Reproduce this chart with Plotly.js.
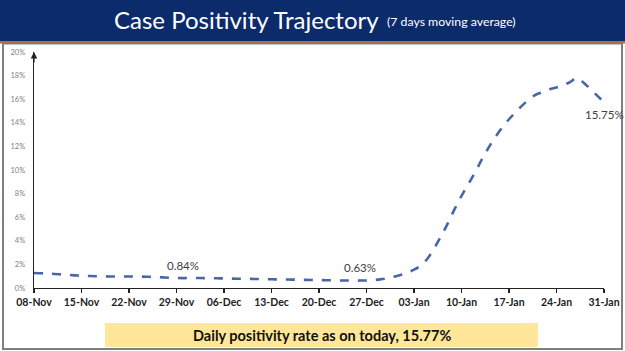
<!DOCTYPE html>
<html>
<head>
<meta charset="utf-8">
<script src="https://cdn.plot.ly/plotly-3.0.1.min.js"></script>
<style>html,body{margin:0;padding:0;background:#fff;}#chart{width:625px;height:351px;}</style>
</head>
<body>
<div id="chart"></div>
<script>
// Daily 7-day moving average of case positivity (%), starting 08-Nov-2021
const startDate = "2021-11-08";
const positivity = [
  1.27,1.25,1.22,1.19,1.15,1.11,1.07,
  1.04,1.02,1.00,0.99,0.98,0.98,0.97,
  0.97,0.97,0.96,0.95,0.93,0.90,0.87,
  0.85,0.84,0.85,0.85,0.84,0.83,0.82,
  0.81,0.80,0.79,0.78,0.77,0.76,0.75,
  0.74,0.73,0.72,0.71,0.70,0.69,0.68,
  0.67,0.66,0.65,0.64,0.64,0.63,0.63,
  0.64,0.67,0.73,0.82,0.95,1.10,1.30,
  1.55,1.90,2.50,3.40,4.40,5.50,6.70,
  7.80,8.80,9.80,10.90,11.90,12.80,13.60,
  14.30,14.90,15.50,16.00,16.40,16.60,16.85,
  17.00,17.20,17.45,17.80,17.40,16.85,16.30,
  15.75
];
const labelDates = ["2021-11-30","2021-12-26","2022-01-31"];
const labelValues = [0.84, 0.63, 15.75];
const labelTexts = ["0.84%","0.63%","15.75%"];
const yTickVals = [0,2,4,6,8,10,12,14,16,18,20];
const yTickText = ["0%","2%","4%","6%","8%","10%","12%","14%","16%","18%","20%"];
const titleText = "Case Positivity Trajectory";
const subtitleText = "(7 days moving average)";
const footerText = "Daily positivity rate as on today, 15.77%";

const dates = [];
{
  const d0 = new Date(startDate + "T00:00:00Z");
  for (let i = 0; i < positivity.length; i++) {
    const d = new Date(d0.getTime() + i * 86400000);
    dates.push(d.toISOString().slice(0,10));
  }
}

// pixel helpers (plot area: x 34..604, y 52..288)
const L = 34, R = 604, T = 52, B = 288;
const px = v => (v - L) / (R - L);
const py = v => (B - v) / (B - T);

const trace = {
  x: dates, y: positivity, type: "scatter", mode: "lines",
  line: {color: "#4767A8", width: 2.6, dash: "dash", shape: "spline"},
  hoverinfo: "skip"
};

const annotations = [];
const shifts = [13, 13, -12];
for (let i = 0; i < labelTexts.length; i++) {
  annotations.push({
    x: labelDates[i], y: labelValues[i], xref: "x", yref: "y",
    text: labelTexts[i], showarrow: false, yshift: shifts[i],
    font: {family: "Lato, 'Open Sans', sans-serif", size: 11.5, color: "#404040"}
  });
}
annotations.push({
  x: px(112), y: py(20), xref: "paper", yref: "paper", xanchor: "left", yanchor: "middle",
  text: titleText, showarrow: false,
  font: {family: "Lato, 'Open Sans', sans-serif", size: 24, color: "#ffffff"}
});
annotations.push({
  x: px(385), y: py(22), xref: "paper", yref: "paper", xanchor: "left", yanchor: "middle",
  text: subtitleText, showarrow: false,
  font: {family: "Lato, 'Open Sans', sans-serif", size: 12.3, color: "#ffffff"}
});
annotations.push({
  x: px(322), y: py(335), xref: "paper", yref: "paper", xanchor: "center", yanchor: "middle",
  text: "<b>" + footerText + "</b>", showarrow: false,
  font: {family: "Lato, 'Open Sans', sans-serif", size: 14.5, color: "#111111"}
});
// y axis arrow head
annotations.push({
  x: 0, y: 1, xref: "paper", yref: "paper", ax: 0, ay: 12, axref: "pixel", ayref: "pixel",
  text: "", showarrow: true, arrowhead: 2, arrowsize: 1, arrowwidth: 1.3, arrowcolor: "#222222"
});

const shapes = [
  {type: "rect", xref: "paper", yref: "paper", x0: px(0), x1: px(625), y0: py(0), y1: py(41.5),
   fillcolor: "#0C2B6B", line: {width: 0}, layer: "below"},
  {type: "rect", xref: "paper", yref: "paper", x0: px(0), x1: px(625), y0: py(41.5), y1: py(43.5),
   fillcolor: "#C55A11", line: {width: 0}, layer: "below"},
  {type: "rect", xref: "paper", yref: "paper", x0: px(3), x1: px(622), y0: py(43.5), y1: py(349),
   fillcolor: "rgba(0,0,0,0)", line: {color: "#7F7F7F", width: 2}, layer: "below"},
  {type: "rect", xref: "paper", yref: "paper", x0: px(105), x1: px(538), y0: py(323), y1: py(347),
   fillcolor: "#FFE699", line: {width: 0}, layer: "below"}
];

const layout = {
  width: 625, height: 351,
  margin: {l: L, r: 625 - R, t: T, b: 351 - B, pad: 0},
  paper_bgcolor: "#ffffff", plot_bgcolor: "rgba(0,0,0,0)",
  showlegend: false,
  xaxis: {
    type: "date", range: [dates[0], dates[dates.length - 1]],
    tick0: startDate, dtick: 7 * 86400000, tickformat: "%d-%b",
    showgrid: false, zeroline: false, showline: true, linecolor: "#222222", linewidth: 1.3,
    ticks: "outside", ticklen: 4, tickcolor: "#222222", tickwidth: 1.3,
    tickfont: {family: "Lato, 'Open Sans', sans-serif", size: 10.5, color: "#222222", weight: "bold"}
  },
  yaxis: {
    range: [0, 20], tickvals: yTickVals, ticktext: yTickText,
    showgrid: false, zeroline: false, showline: true, linecolor: "#222222", linewidth: 1.3,
    ticks: "", ticklabelstandoff: 6,
    tickfont: {family: "Lato, 'Open Sans', sans-serif", size: 7.5, color: "#808080"}
  },
  annotations: annotations,
  shapes: shapes
};

Plotly.newPlot("chart", [trace], layout, {displayModeBar: false, staticPlot: true});
</script>
</body>
</html>
